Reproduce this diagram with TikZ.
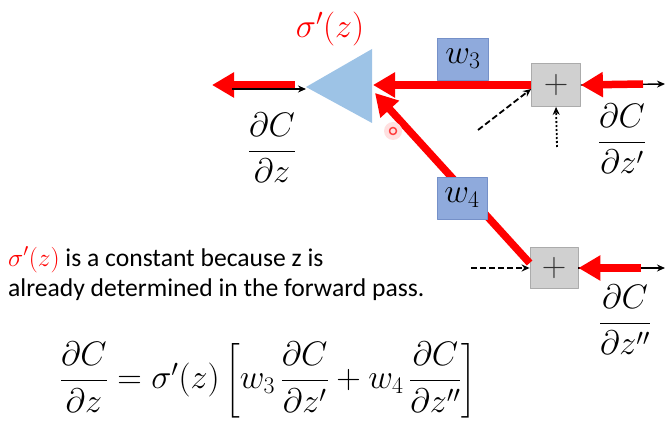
\RequirePackage{fix-cm}
\documentclass[tikz,border=0pt]{standalone}
\usepackage{amsmath}
\usepackage{fontspec}
\newfontfamily\calibri{Carlito}
\usetikzlibrary{arrows.meta}
\definecolor{bpred}{HTML}{FF0000}
\definecolor{sigblue}{HTML}{9DC3E6}
\definecolor{wfill}{HTML}{8FAADC}
\definecolor{wdraw}{HTML}{7590C8}
\definecolor{pfill}{HTML}{D0D0D0}
\definecolor{pdraw}{HTML}{ABABAB}
\tikzset{
	backarrow/.style={draw=bpred, line width=7.5pt, line cap=butt, -{Triangle[length=22pt,width=24pt]}, bpred},
	fwdarrow/.style={line width=1.4pt, line cap=butt, -{Stealth[length=8pt,width=7pt]}},
	wbox/.style={draw=wdraw, fill=wfill, line width=0.8pt, minimum width=51pt, minimum height=42pt, inner sep=0pt},
	plusbox/.style={draw=pdraw, fill=pfill, line width=0.8pt, minimum width=49pt, minimum height=43pt, inner sep=0pt, text=black!80},
	txt/.style={anchor=base west, inner sep=0pt, font=\calibri\fontsize{25.6}{30}\selectfont}
}
\begin{document}
\begin{tikzpicture}[x=1pt, y=-1pt, font=\fontsize{34}{40}\selectfont, line join=round, >=stealth]
	\useasboundingbox (0,0) rectangle (671,430);
	\def\ya{85} % upper line
	\def\yb{268} % lower line
	% neuron
	\coordinate (sig-tip) at (306,87);
	\coordinate (sig-in) at (373,\ya);
	\coordinate (sig-in2) at (375,93);
	\fill[sigblue] (sig-tip) -- (372,49) -- (372,123) -- cycle;
	\node[text=bpred] (sig) at (330,29) {$\sigma'(z)$};
	% plus gates
	\node[plusbox] (p1) at (556,\ya) {$+$};
	\node[plusbox, minimum width=48pt, minimum height=41pt] (p2) at (554,\yb) {$+$};
	\node[wbox] (w3) at (463,59) {$w_3$};
	% back paths
	\draw[backarrow] (p1.west) -- (sig-in);
	\draw[backarrow] ([yshift=5pt]p2.west) -- (sig-in2);
	\node[wbox, minimum width=50pt] (w4) at (462,198) {$w_4$};
	\coordinate (out) at (212,\ya);
	\coordinate (fwd-l) at (232,89);
	\draw[backarrow] (295,\ya) -- (out);
	\draw[fwdarrow] (fwd-l) -- ([yshift=-2pt]sig-tip);
	% right side
	\coordinate (o1) at (665,84);
	\coordinate (o2) at (665,\yb);
	\draw[fwdarrow] (p1.east) -- (o1);
	\draw[fwdarrow] (p2.east) -- (o2);
	\draw[backarrow] (643,84) -- (p1.east);
	\draw[backarrow] (641,\yb) -- (p2.east);
	% other inputs
	\coordinate (d1) at (478,130);
	\coordinate (d2) at (557,147);
	\coordinate (d3) at (471,\yb);
	\draw[fwdarrow, line width=1.8pt, dash pattern=on 6pt off 3pt] (d1) -- ([yshift=-4pt]p1.west);
	\draw[fwdarrow, line width=1.8pt, dash pattern=on 2pt off 2pt] (d2) -- (p1.south);
	\draw[fwdarrow, line width=1.8pt, dash pattern=on 6pt off 3pt] (d3) -- (p2.west);
	% pointer
	\fill[bpred!12] (393,131) circle (9pt);
	\draw[bpred!75, line width=1.5pt] (393,131) circle (3.5pt);
	% gradients
	\node (dz) at (272,148) {$\dfrac{\partial C}{\partial z}$};
	\node (dz1) at (622,139) {$\dfrac{\partial C}{\partial z'}$};
	\node (dz2) at (625,320) {$\dfrac{\partial C}{\partial z''}$};
	% note
	\node[txt] (note1) at (8,266) {\textcolor{bpred}{$\sigma'(z)$} is a constant because z is};
	\node[txt] (note2) at (8,296) {already determined in the forward pass.};
	\node (eq) at (268,380) {$\dfrac{\partial C}{\partial z}=\sigma'(z)\left[w_3\,\dfrac{\partial C}{\partial z'}+w_4\,\dfrac{\partial C}{\partial z''}\right]$};
\end{tikzpicture}
\end{document}
